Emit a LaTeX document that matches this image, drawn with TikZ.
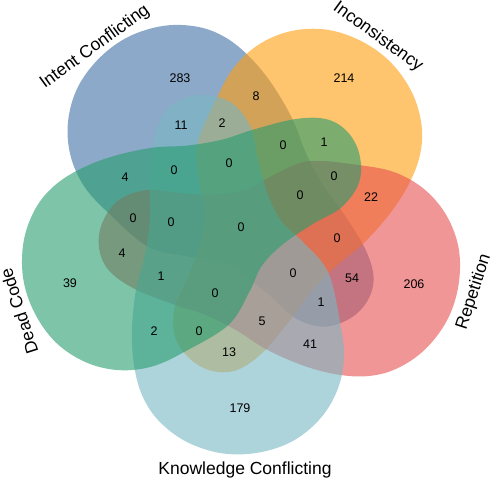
\documentclass[tikz,border=0pt]{standalone}
\usepackage{fontspec}
\setmainfont{Liberation Sans}
\definecolor{intentc}{RGB}{65,112,165}
\definecolor{inconc}{RGB}{255,157,13}
\definecolor{repc}{RGB}{232,80,80}
\definecolor{knowc}{RGB}{120,183,195}
\definecolor{deadc}{RGB}{38,157,110}
\begin{document}
\begin{tikzpicture}[
x=1pt, y=1pt,
num/.style={font=\fontsize{12.5}{14}\selectfont, inner sep=0pt},
setname/.style={font=\fontsize{17.5}{20}\selectfont, inner sep=0pt},
venn/.style={fill opacity=0.6}
]
\useasboundingbox (0,0) rectangle (492,-484);

%---------------- Sets ----------------
\begin{scope}[shift={(242,-230)}]
\foreach \ang/\col in {216/intentc,144/inconc,72/repc,0/knowc,288/deadc}
  \fill[venn,fill=\col,rotate=\ang] plot[smooth cycle,tension=0.6] coordinates {
    (-35,135) (-60,131) (-79,115) (-89,85) (-92,40) (-92,10) (-97,-25)
    (-106,-60) (-110,-100) (-108,-135) (-100,-165) (-84,-190) (-57,-211)
    (-22,-223) (14,-223) (49,-212) (77,-190) (95,-161) (102,-128) (98,-92)
    (86,-42) (61,-12) (40,8) (26,35) (16,70) (9,102) (-9,126)};
\end{scope}

%---------------- Set names ----------------
\node[setname,rotate=36] (intent) at (95,-47) {Intent Conflicting};
\node[setname,rotate=-36] (incon) at (378,-37) {Inconsistency};
\node[setname,rotate=72] (rep) at (474,-292) {Repetition};
\node[setname] (know) at (245,-470) {Knowledge Conflicting};
\node[setname,rotate=108] (dead) at (19,-311) {Dead Code};

%---------------- Counts ----------------
\node[num] (n283) at (180,-78) {283};
\node[num] (n214) at (344,-78) {214};
\node[num] (n8) at (256,-96) {8};
\node[num] (n11) at (181,-125) {11};
\node[num] (n2a) at (222,-123) {2};
\node[num] (z1) at (283,-145) {0};
\node[num] (n1a) at (324,-142) {1};
\node[num] (n4a) at (125,-177) {4};
\node[num] (z2) at (174,-170) {0};
\node[num] (z3) at (229,-163) {0};
\node[num] (z4) at (334,-176) {0};
\node[num] (z5) at (300,-195) {0};
\node[num] (n22) at (371,-197) {22};
\node[num] (z6) at (133,-218) {0};
\node[num] (z7) at (171,-222) {0};
\node[num] (z8) at (241,-227) {0};
\node[num] (z9) at (337,-238) {0};
\node[num] (n4b) at (122,-253) {4};
\node[num] (n1b) at (161,-276) {1};
\node[num] (z10) at (215,-293) {0};
\node[num] (z11) at (293,-273) {0};
\node[num] (n54) at (352,-278) {54};
\node[num] (n1c) at (321,-302) {1};
\node[num] (n5) at (262,-321) {5};
\node[num] (n41) at (310,-344) {41};
\node[num] (n2b) at (154,-331) {2};
\node[num] (z12) at (199,-331) {0};
\node[num] (n13) at (229,-352) {13};
\node[num] (n179) at (240,-408) {179};
\node[num] (n39) at (70,-283) {39};
\node[num] (n206) at (414,-284) {206};

\end{tikzpicture}
\end{document}
